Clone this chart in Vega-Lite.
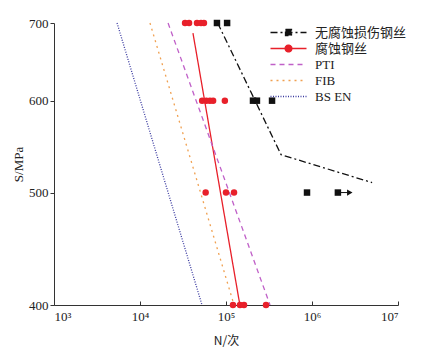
{
  "$schema": "https://vega.github.io/schema/vega-lite/v6.json",
  "width": 344,
  "height": 282,
  "autosize": "none",
  "padding": {"left": 54, "top": 23, "right": 28, "bottom": 50},
  "background": "white",
  "config": {
    "view": {"stroke": null},
    "axis": {"domainColor": "#333", "tickColor": "#333", "labelColor": "#222", "titleColor": "#222", "grid": false, "labelFont": "Liberation Serif", "titleFont": "Liberation Serif", "labelFontSize": 13, "titleFontSize": 13, "titleFontWeight": "normal"}
  },
  "datasets": {
    "lines": [
      {"series": "无腐蚀损伤钢丝", "N": 80000, "S": 700, "o": 1},
      {"series": "无腐蚀损伤钢丝", "N": 437000, "S": 539, "o": 2},
      {"series": "无腐蚀损伤钢丝", "N": 5000000, "S": 510, "o": 3},
      {"series": "腐蚀钢丝", "N": 41300, "S": 686, "o": 1},
      {"series": "腐蚀钢丝", "N": 145000, "S": 400, "o": 2},
      {"series": "PTI", "N": 21200, "S": 700, "o": 1},
      {"series": "PTI", "N": 325000, "S": 400, "o": 2},
      {"series": "FIB", "N": 13060, "S": 700, "o": 1},
      {"series": "FIB", "N": 124000, "S": 400, "o": 2},
      {"series": "BS EN", "N": 5410, "S": 700, "o": 1},
      {"series": "BS EN", "N": 52600, "S": 400, "o": 2}
    ],
    "pts": [
      {"series": "无腐蚀损伤钢丝", "N": 78500, "S": 700},
      {"series": "无腐蚀损伤钢丝", "N": 103000, "S": 700},
      {"series": "无腐蚀损伤钢丝", "N": 206000, "S": 600},
      {"series": "无腐蚀损伤钢丝", "N": 229000, "S": 600},
      {"series": "无腐蚀损伤钢丝", "N": 343000, "S": 600},
      {"series": "无腐蚀损伤钢丝", "N": 875000, "S": 500},
      {"series": "无腐蚀损伤钢丝", "N": 2000000, "S": 500},
      {"series": "腐蚀钢丝", "N": 33400, "S": 700},
      {"series": "腐蚀钢丝", "N": 37200, "S": 700},
      {"series": "腐蚀钢丝", "N": 46000, "S": 700},
      {"series": "腐蚀钢丝", "N": 51200, "S": 700},
      {"series": "腐蚀钢丝", "N": 55400, "S": 700},
      {"series": "腐蚀钢丝", "N": 52800, "S": 600},
      {"series": "腐蚀钢丝", "N": 59000, "S": 600},
      {"series": "腐蚀钢丝", "N": 65000, "S": 600},
      {"series": "腐蚀钢丝", "N": 70800, "S": 600},
      {"series": "腐蚀钢丝", "N": 97000, "S": 600},
      {"series": "腐蚀钢丝", "N": 58000, "S": 500},
      {"series": "腐蚀钢丝", "N": 100000, "S": 500},
      {"series": "腐蚀钢丝", "N": 124000, "S": 500},
      {"series": "腐蚀钢丝", "N": 120500, "S": 400},
      {"series": "腐蚀钢丝", "N": 145500, "S": 400},
      {"series": "腐蚀钢丝", "N": 162000, "S": 400},
      {"series": "腐蚀钢丝", "N": 292000, "S": 400}
    ],
    "arrow": [
      {"N": 2000000, "S": 500, "o": 1},
      {"N": 2850000, "S": 500, "o": 2}
    ],
    "arrowhead": [
      {"N": 2750000, "S": 500}
    ]
  },
  "layer": [
    {
      "data": {"name": "lines"},
      "mark": {"type": "line", "strokeWidth": 1.3},
      "encoding": {
        "x": {"field": "N", "type": "quantitative", "scale": {"type": "log", "domain": [1000, 10000000], "nice": false},
          "axis": {"values": [1000, 10000, 100000, 1000000, 10000000], "title": "N/次", "titleFont": "Noto Sans CJK SC", "titleFontSize": 12, "titlePadding": 12, "tickSize": -4, "labelPadding": 9, "labelExpr": "'10' + ['⁰','¹','²','³','⁴','⁵','⁶','⁷'][round(log(datum.value)/LN10)]"}},
        "y": {"field": "S", "type": "quantitative", "scale": {"type": "log", "domain": [400, 700], "nice": false},
          "axis": {"values": [400, 500, 600, 700], "title": "S/MPa", "tickSize": 4, "labelPadding": 2, "titlePadding": 3}},
        "order": {"field": "o"},
        "color": {"field": "series", "type": "nominal",
          "scale": {"domain": ["无腐蚀损伤钢丝", "腐蚀钢丝", "PTI", "FIB", "BS EN"], "range": ["#111111", "#e8202a", "#c060c8", "#f0a050", "#3a3aa0"]},
          "legend": {"title": null, "orient": "none", "legendX": 228, "legendY": 3, "padding": 0, "labelFont": "Liberation Serif, Noto Sans CJK SC", "labelFontSize": 13, "labelColor": "#222", "symbolSize": 64, "symbolStrokeWidth": 1.3, "rowPadding": 2, "labelOffset": 20,
            "encode": {"symbols": {"update": {
              "shape": {"signal": "datum.value === '无腐蚀损伤钢丝' ? 'M-4.5,0H4.5M-0.75,-0.75H0.75V0.75H-0.75Z' : datum.value === '腐蚀钢丝' ? 'M-4.5,0H4.5M-0.85,0A0.85,0.85,0,1,0,0.85,0A0.85,0.85,0,1,0,-0.85,0Z' : 'M-4.5,0H4.5'"},
              "fill": {"signal": "datum.value === '无腐蚀损伤钢丝' ? '#111111' : datum.value === '腐蚀钢丝' ? '#e8202a' : 'transparent'"}
            }}}}},
        "strokeDash": {"field": "series", "type": "nominal",
          "scale": {"domain": ["无腐蚀损伤钢丝", "腐蚀钢丝", "PTI", "FIB", "BS EN"], "range": [[7, 3, 2, 3], [1, 0], [5, 4], [2, 4], [1, 1.5]]}}
      }
    },
    {
      "data": {"name": "pts"},
      "mark": {"type": "point", "filled": true, "opacity": 1},
      "encoding": {
        "x": {"field": "N", "type": "quantitative"},
        "y": {"field": "S", "type": "quantitative"},
        "color": {"field": "series", "type": "nominal", "legend": null},
        "shape": {"field": "series", "type": "nominal", "legend": null,
          "scale": {"domain": ["无腐蚀损伤钢丝", "腐蚀钢丝"], "range": ["square", "circle"]}},
        "size": {"value": 42}
      }
    },
    {
      "data": {"name": "arrow"},
      "mark": {"type": "line", "color": "#111111", "strokeWidth": 1},
      "encoding": {
        "x": {"field": "N", "type": "quantitative"},
        "y": {"field": "S", "type": "quantitative"},
        "order": {"field": "o"}
      }
    },
    {
      "data": {"name": "arrowhead"},
      "mark": {"type": "point", "shape": "triangle-right", "filled": true, "color": "#111111", "opacity": 1, "size": 40},
      "encoding": {
        "x": {"field": "N", "type": "quantitative"},
        "y": {"field": "S", "type": "quantitative"}
      }
    }
  ]
}
